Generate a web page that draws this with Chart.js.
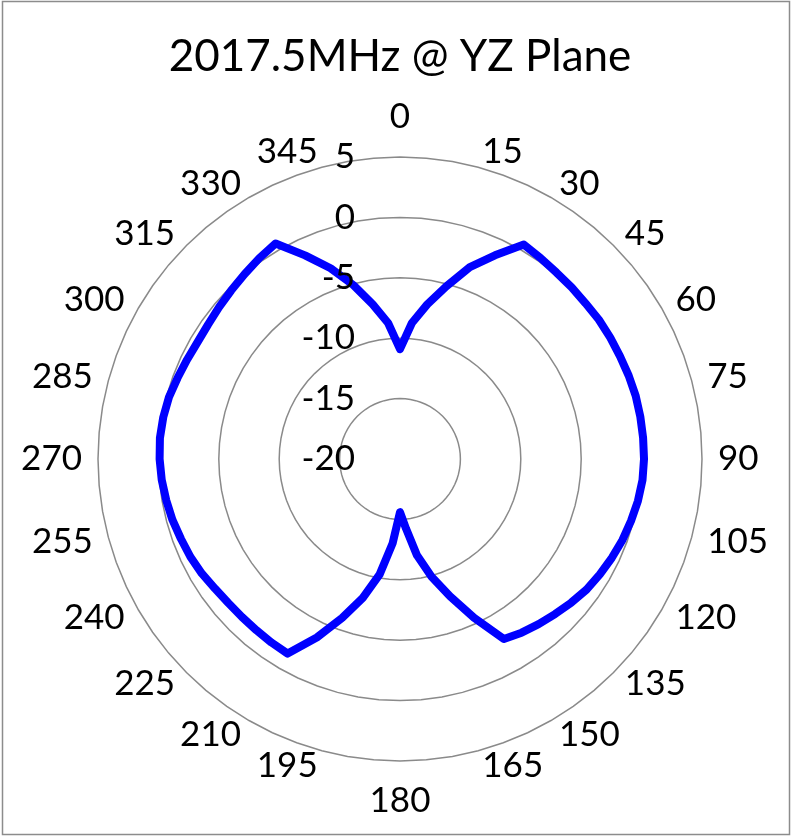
<!DOCTYPE html>
<html>
<head>
<meta charset="utf-8">
<script src="https://cdn.jsdelivr.net/npm/chart.js@4/dist/chart.umd.min.js"></script>
<style>
  html, body { margin: 0; padding: 0; background: #ffffff; }
  #wrap { width: 791px; height: 836px; position: relative; }
  canvas { display: block; }
</style>
</head>
<body>
<div id="wrap"><canvas id="c" width="791" height="836"></canvas></div>
<script>
// Categories: angle in degrees (5-degree steps)
const angles = ['0','5','10','15','20','25','30','35','40','45','50','55',
  '60','65','70','75','80','85','90','95','100','105','110','115',
  '120','125','130','135','140','145','150','155','160','165','170','175',
  '180','185','190','195','200','205','210','215','220','225','230','235',
  '240','245','250','255','260','265','270','275','280','285','290','295',
  '300','305','310','315','320','325','330','335','340','345','350','355'];

// Angle labels that are shown on the chart
const shownAngleLabels = ['0','15','30','45','60','75','90','105','120','135','150','165',
  '180','195','210','225','240','255','270','285','300','315','330','345'];

// Gain (dB) at each angle
const gain = [
  -10.9, -8.7, -7.0, -5.2, -3.1, -1.4,
   0.5,  0.3,  0.15, 0.1,  0.05, 0.1,
   0.1,  0.1,  0.15, 0.2,  0.2,  0.2,
   0.2,  0.15, 0.0, -0.2, -0.4, -0.65,
  -0.9, -1.15, -1.5, -1.85, -2.15, -2.45,
  -2.8, -5.5, -7.9, -9.9, -11.9, -14.2,
  -15.6, -13.0, -10.3, -8.1, -6.0, -3.7,
  -1.4, -1.45, -1.5, -1.5, -1.45, -1.3,
  -1.05, -0.85, -0.7, -0.5, -0.35, -0.2,
  -0.1, -0.05, -0.1, -0.2, -0.4, -0.55,
  -0.65, -0.6, -0.45, -0.25, 0.0, 0.3,
   0.6, -1.4, -3.2, -5.1, -7.0, -8.7
];

// Radial tick labels
const radialTicks = [-20, -15, -10, -5, 0, 5];

const chartTitle = '2017.5MHz @ YZ Plane';

const FONT = 'Lato, "Open Sans", "Liberation Sans", sans-serif';

const frame = {
  id: 'frame',
  beforeDraw(chart) {
    const ctx = chart.ctx;
    ctx.save();
    ctx.fillStyle = '#ffffff';
    ctx.fillRect(0, 0, chart.width, chart.height);
    ctx.strokeStyle = '#8c8c8c';
    ctx.lineWidth = 1.5;
    ctx.strokeRect(2.5, 1.5, chart.width - 4, chart.height - 3);
    ctx.restore();
  }
};

const labelsPlugin = {
  id: 'excelLabels',
  afterDraw(chart) {
    const scale = chart.scales.r;
    const ctx = chart.ctx;
    ctx.save();
    ctx.fillStyle = '#000000';
    ctx.font = '35px ' + FONT;
    // radial ticks, right-aligned left of the centre line
    ctx.textAlign = 'right';
    ctx.textBaseline = 'middle';
    radialTicks.forEach(v => {
      const d = scale.getDistanceFromCenterForValue(v);
      ctx.fillText(String(v), scale.xCenter - 45, scale.yCenter - d);
    });
    // angle labels
    const dist = scale.drawingArea + 16;
    angles.forEach((lab, i) => {
      if (!shownAngleLabels.includes(lab)) return;
      const p = scale.getPointPosition(i, dist);
      const deg = Number(lab);
      let x = p.x, y = p.y;
      if (deg === 0) { ctx.textAlign = 'center'; y -= 24; }
      else if (deg === 180) { ctx.textAlign = 'center'; y += 24; }
      else if (deg < 180) { ctx.textAlign = 'left'; }
      else { ctx.textAlign = 'right'; }
      ctx.textBaseline = 'middle';
      ctx.fillText(lab, x, y);
    });
    ctx.restore();
  }
};

new Chart(document.getElementById('c'), {
  type: 'radar',
  data: {
    labels: angles,
    datasets: [{
      label: 'Gain',
      data: gain,
      borderColor: '#0000ff',
      borderWidth: 8,
      borderJoinStyle: 'round',
      borderCapStyle: 'round',
      fill: false,
      pointRadius: 0,
      pointHoverRadius: 0,
      tension: 0
    }]
  },
  options: {
    responsive: false,
    animation: false,
    devicePixelRatio: 1,
    layout: { padding: { left: 98, right: 89, top: 0, bottom: 74 } },
    plugins: {
      legend: { display: false },
      tooltip: { enabled: false },
      title: {
        display: true,
        text: chartTitle,
        color: '#000000',
        font: { family: FONT, size: 44, weight: 'normal', lineHeight: 1.2 },
        padding: { top: 30, bottom: 75 }
      }
    },
    scales: {
      r: {
        min: -20,
        max: 5,
        startAngle: 0,
        ticks: { display: false, stepSize: 5 },
        pointLabels: { display: false },
        angleLines: { display: false },
        grid: { circular: false, color: '#8a8a8a', lineWidth: 1.5 }
      }
    }
  },
  plugins: [frame, labelsPlugin]
});
</script>
</body>
</html>
